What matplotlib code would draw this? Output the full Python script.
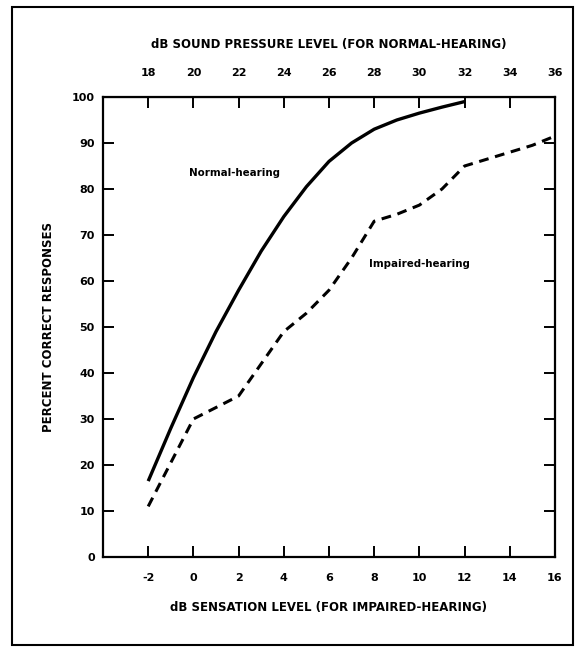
import matplotlib
matplotlib.use('Agg')
import matplotlib.pyplot as plt
from matplotlib.patches import Rectangle

# sensation level (dB) for the bottom axis, SPL = SL + 20 on the top axis
normal_x = [-2, -1, 0, 1, 2, 3, 4, 5, 6, 7, 8, 9, 10, 11, 12]
normal_y = [16.5, 28, 39, 49, 58, 66.5, 74, 80.5, 86, 90, 93, 95, 96.5, 97.8, 99]

impaired_x = [-2, -1, 0, 1, 2, 3, 4, 5, 6, 7, 8, 9, 10, 11, 12, 13, 14, 15, 16]
impaired_y = [11, 20.5, 30, 32.5, 35, 42, 49, 53, 58, 65, 73, 74.5, 76.5, 80, 85, 86.5, 88, 89.5, 91.5]

bottom_ticks = [-2, 0, 2, 4, 6, 8, 10, 12, 14, 16]
top_labels = ['18', '20', '22', '24', '26', '28', '30', '32', '34', '36']
y_ticks = [0, 10, 20, 30, 40, 50, 60, 70, 80, 90, 100]

plt.rcParams['font.family'] = ['DejaVu Sans']
fig = plt.figure(figsize=(5.85, 6.49), dpi=100)
ax = fig.add_axes([103 / 585, 1 - 557 / 649, (555 - 103) / 585, (557 - 97) / 649])

ax.plot(normal_x, normal_y, color='black', lw=2.4, solid_capstyle='butt',
        solid_joinstyle='round')
ax.plot(impaired_x, impaired_y, color='black', lw=2.2, dashes=(3.2, 2.2))

ax.set_xlim(-4, 16)
ax.set_ylim(0, 100)

ax.set_xticks(bottom_ticks)
ax.set_xticklabels([str(t) for t in bottom_ticks])
ax.set_yticks(y_ticks)
ax.tick_params(axis='both', direction='in', length=8, width=1.4, labelsize=8,
               right=True)
ax.tick_params(axis='x', pad=11.5)
ax.tick_params(axis='y', pad=6)
for lab in ax.get_xticklabels() + ax.get_yticklabels():
    lab.set_fontweight('bold')
for s in ax.spines.values():
    s.set_linewidth(1.6)

top = ax.secondary_xaxis('top', functions=(lambda v: v + 20, lambda v: v - 20))
top.set_xticks([t + 20 for t in bottom_ticks])
top.set_xticklabels(top_labels)
top.tick_params(direction='in', length=8, width=1.4, labelsize=8, pad=14)
for lab in top.get_xticklabels():
    lab.set_fontweight('bold')

top.set_xlabel('dB SOUND PRESSURE LEVEL (FOR NORMAL-HEARING)', fontsize=8.5,
               fontweight='bold', labelpad=14)
ax.set_xlabel('dB SENSATION LEVEL (FOR IMPAIRED-HEARING)', fontsize=8.5,
              fontweight='bold', labelpad=13)
ax.set_ylabel('PERCENT CORRECT RESPONSES', fontsize=8.5, fontweight='bold', labelpad=12)

ax.text(1.8, 83.5, 'Normal-hearing', fontsize=7.4, fontweight='bold', ha='center', va='center')
ax.text(10.0, 63.8, 'Impaired-hearing', fontsize=7.4, fontweight='bold', ha='center', va='center')

# outer frame of the scanned figure
fig.patches.append(Rectangle((12 / 585, 1 - 645 / 649), (573 - 12) / 585, (645 - 7) / 649,
                             transform=fig.transFigure, fill=False, lw=1.5, ec='black'))

fig.savefig('out.png', dpi=100)
